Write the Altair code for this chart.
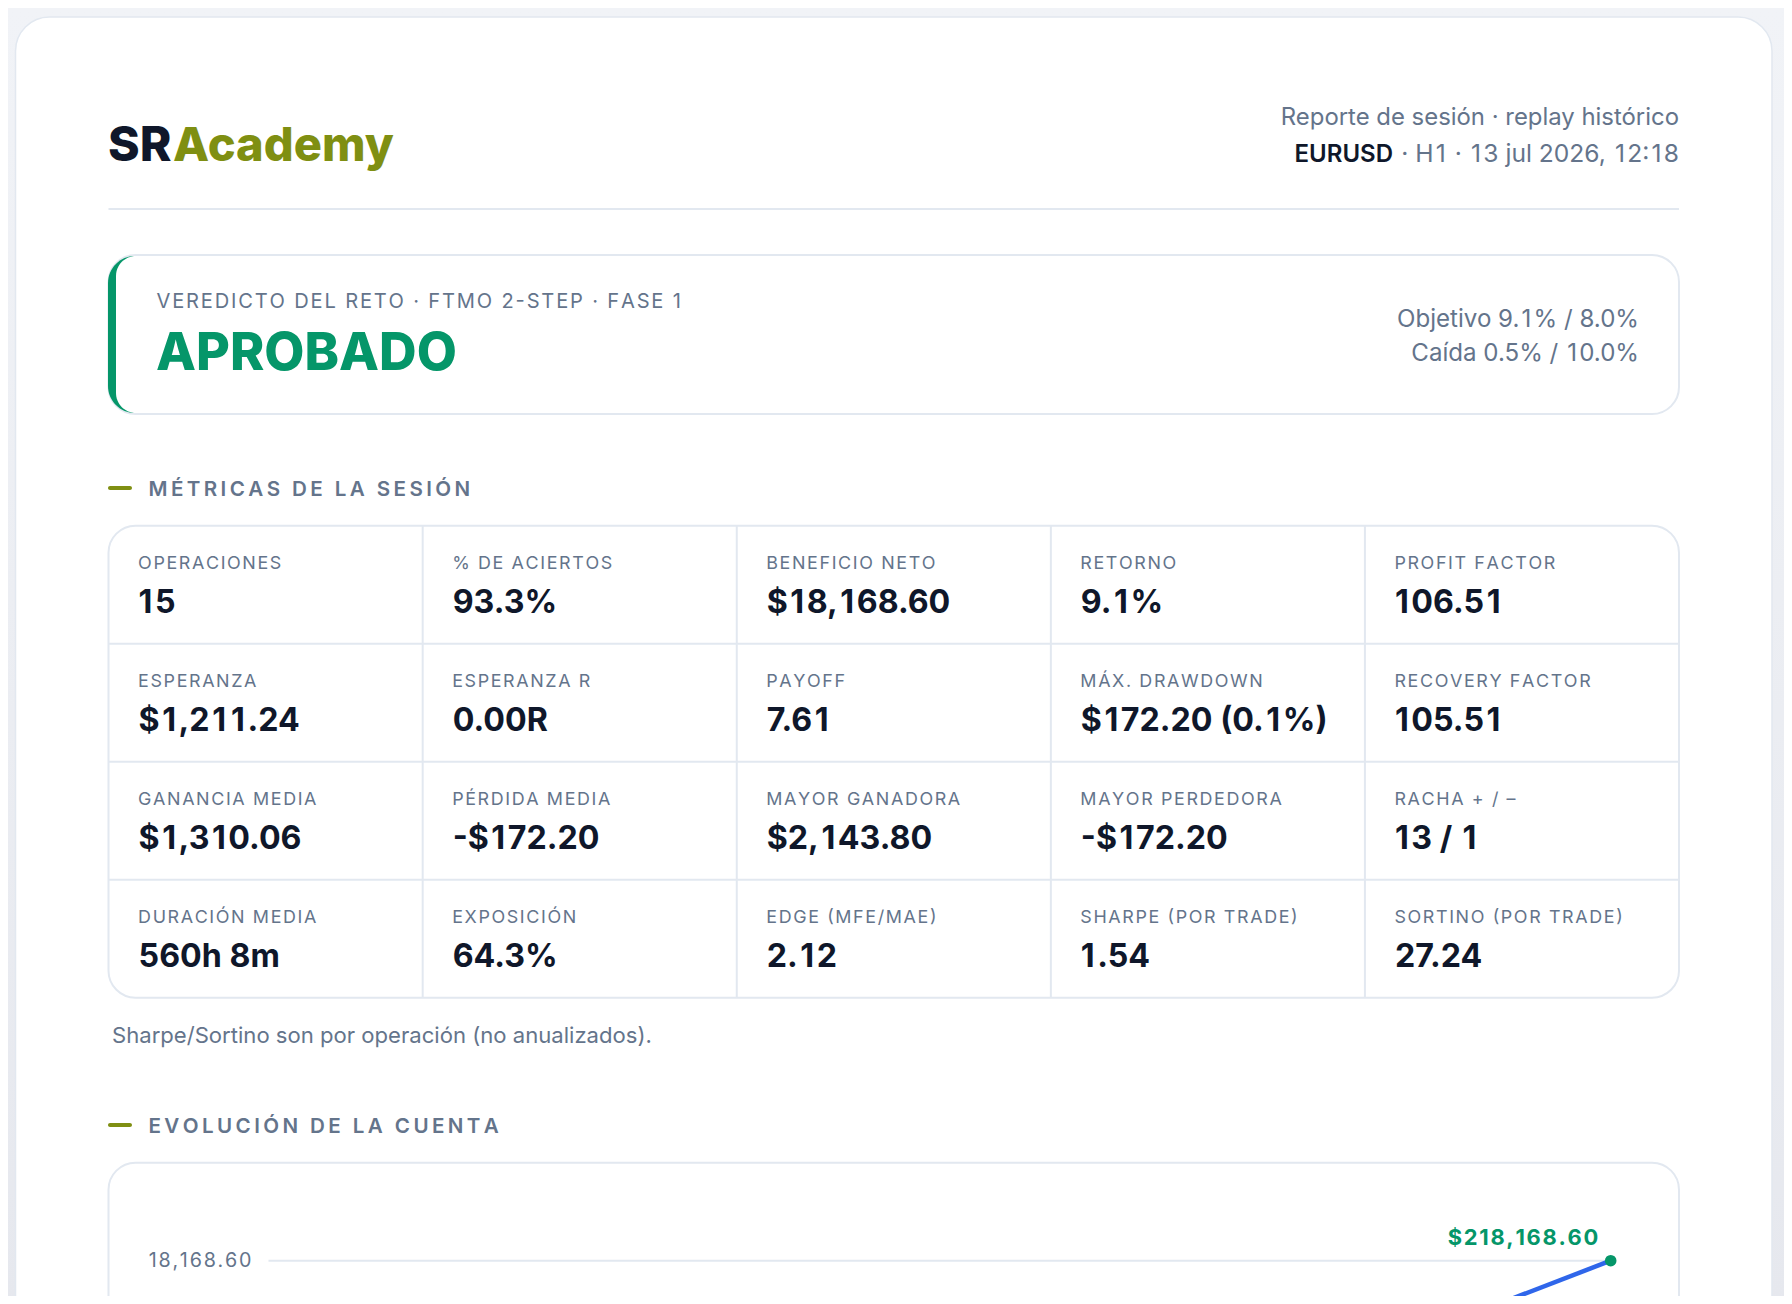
import pandas as pd
import altair as alt

metric_labels = [
    "OPERACIONES", "% DE ACIERTOS", "BENEFICIO NETO", "RETORNO", "PROFIT FACTOR",
    "ESPERANZA", "ESPERANZA R", "PAYOFF", "MÁX. DRAWDOWN", "RECOVERY FACTOR",
    "GANANCIA MEDIA", "PÉRDIDA MEDIA", "MAYOR GANADORA", "MAYOR PERDEDORA", "RACHA + / –",
    "DURACIÓN MEDIA", "EXPOSICIÓN", "EDGE (MFE/MAE)", "SHARPE (POR TRADE)", "SORTINO (POR TRADE)",
]
metric_values = [
    "15", "93.3%", "$18,168.60", "9.1%", "106.51",
    "$1,211.24", "0.00R", "7.61", "$172.20 (0.1%)", "105.51",
    "$1,310.06", "-$172.20", "$2,143.80", "-$172.20", "13 / 1",
    "560h 8m", "64.3%", "2.12", "1.54", "27.24",
]
equity_trade = [13, 15]
equity_value = [13990, 18168.60]
grid_value = 18168.60
end_label = "$218,168.60"

SLATE = "#64748b"
INK = "#0f172a"
OLIVE = "#7f8f12"
GREEN = "#059669"
BORDER = "#e2e8f0"
FONT = "Inter"
HAIR = "\u200a"


def track(txt, n=1):
    # vega has no letter-spacing, a hair space between letters does the job
    return (HAIR * n).join(txt)


def tabular(txt):
    # same for tabular figures: the narrow 1 gets padded
    return txt.replace("1", HAIR + "1" + HAIR)


def box(x, x2, y, y2, **style):
    # rects are given in page pixels, the svg starts 8px in
    return alt.Chart(pd.DataFrame({"a": [0]})).mark_rect(**style).encode(
        x=alt.value(x - 8), x2=alt.value(x2 - 8), y=alt.value(y - 8), y2=alt.value(y2 - 8)
    )


def label(txt, x, y, size, color=SLATE, weight=400, align="left"):
    return alt.Chart(pd.DataFrame({"t": [txt]})).mark_text(
        font=FONT, fontSize=size, fontWeight=weight, color=color, align=align, baseline="alphabetic"
    ).encode(x=alt.value(x - 8), y=alt.value(y - 8), text="t:N")


metrics = pd.DataFrame({
    "label": [track(t) for t in metric_labels],
    "value": [tabular(t) for t in metric_values],
    "col": [i % 5 for i in range(20)],
    "row": [i // 5 for i in range(20)],
})
col_scale = alt.Scale(domain=[0, 5], range=[100.6, 1671], nice=False, zero=False)
row_scale = alt.Scale(domain=[0, 4], range=[517.7, 989.7], nice=False, zero=False)

cell_x = alt.X("col:Q", scale=col_scale, axis=None)
cell_y = alt.Y("row:Q", scale=row_scale, axis=None)

metric_label_text = alt.Chart(metrics).mark_text(
    font=FONT, fontSize=17.9, color=SLATE, align="left", baseline="alphabetic", dx=29.5, dy=43.6
).encode(x=cell_x, y=cell_y, text="label:N")
metric_value_text = alt.Chart(metrics).mark_text(
    font=FONT, fontSize=32.2, fontWeight=700, color=INK, align="left", baseline="alphabetic", dx=30, dy=87
).encode(x=cell_x, y=cell_y, text="value:N")

col_lines = alt.Chart(pd.DataFrame({"col": [1, 2, 3, 4]})).mark_rule(color=BORDER, strokeWidth=2).encode(
    x=cell_x, y=alt.value(517.7), y2=alt.value(989.7)
)
row_lines = alt.Chart(pd.DataFrame({"row": [1, 2, 3]})).mark_rule(color=BORDER, strokeWidth=2).encode(
    y=cell_y, x=alt.value(100.6), x2=alt.value(1671)
)

# equity chart, runs off the bottom of the page
equity = pd.DataFrame({"trade": equity_trade, "equity": equity_value})
eq_x = alt.Scale(domain=[0, 15], range=[260.5, 1602.7], nice=False, zero=False)
eq_y = alt.Scale(domain=[0, 18168.60], range=[1552, 1252.7], nice=False, zero=False)
eq_line = alt.Chart(equity).mark_line(color="#2f66ea", strokeWidth=4.5, clip=False).encode(
    x=alt.X("trade:Q", scale=eq_x, axis=None), y=alt.Y("equity:Q", scale=eq_y, axis=None)
)
last = pd.DataFrame({"trade": [equity_trade[-1]], "equity": [equity_value[-1]], "t": [track(end_label)]})
eq_dot = alt.Chart(last).mark_point(filled=True, size=135, color=GREEN, opacity=1).encode(
    x=alt.X("trade:Q", scale=eq_x, axis=None), y=alt.Y("equity:Q", scale=eq_y, axis=None)
)
eq_end = alt.Chart(last).mark_text(
    font=FONT, fontSize=21.9, fontWeight=700, color=GREEN, align="right", baseline="alphabetic", dx=-12.5, dy=-16
).encode(x=alt.X("trade:Q", scale=eq_x, axis=None), y=alt.Y("equity:Q", scale=eq_y, axis=None), text="t:N")
grid = pd.DataFrame({"a": [0], "b": [15], "v": [grid_value], "t": [track(f"{grid_value:,.2f}")]})
eq_grid = alt.Chart(grid).mark_rule(color=BORDER, strokeWidth=2).encode(
    x=alt.X("a:Q", scale=eq_x, axis=None), x2="b:Q", y=alt.Y("v:Q", scale=eq_y, axis=None)
)
eq_tick = alt.Chart(grid).mark_text(
    font=FONT, fontSize=19.7, color=SLATE, align="right", baseline="middle", dx=-17
).encode(x=alt.X("a:Q", scale=eq_x, axis=None), y=alt.Y("v:Q", scale=eq_y, axis=None), text="t:N")

chart = alt.layer(
    box(8, 1792, 8, 1304, fill=alt.Gradient(
        gradient="linear", x1=0, y1=0, x2=0, y2=1,
        stops=[alt.GradientStop(color="#f1f3f7", offset=0), alt.GradientStop(color="#e6e8ee", offset=1)],
    )),
    box(15.5, 1772, 17, 1420, fill="white", stroke=BORDER, strokeWidth=1.5, cornerRadius=34),
    # header
    label("SR", 108, 161, 48, INK, 800),
    label("Academy", 173, 161, 47, OLIVE, 800),
    label("Reporte de sesión · replay histórico", 1679, 125, 23.9, align="right"),
    label("EURUSD", 1393, 162, 24, INK, 600, "right"),
    label(tabular("· H1 · 13 jul 2026, 12:18"), 1679, 162, 24.6, align="right"),
    box(108.5, 1679, 208, 210, fill=BORDER),
    # verdict, the green bar is a crescent between two rounded rects
    box(108.5, 1679, 255, 414, fill="white", stroke=BORDER, strokeWidth=2, cornerRadius=27),
    box(108, 165, 256, 413, fill=GREEN, cornerRadius=27),
    box(116, 165, 256, 413, fill="white", cornerRadius=20),
    label(track("VEREDICTO DEL RETO · FTMO 2-STEP · FASE 1"), 156.5, 308, 20.1),
    label("APROBADO", 156, 370, 52, GREEN, 800),
    label(tabular("Objetivo 9.1% / 8.0%"), 1639, 327, 24.1, align="right"),
    label(tabular("Caída 0.5% / 10.0%"), 1639, 361, 24.1, align="right"),
    # metrics
    box(108, 132, 486, 490, fill=OLIVE, cornerRadius=2),
    label(track("MÉTRICAS DE LA SESIÓN", 2), 148.5, 496, 20.6, SLATE, 600),
    box(108.5, 1679, 525.7, 997.7, fill="white", stroke=BORDER, strokeWidth=2, cornerRadius=27),
    col_lines,
    row_lines,
    metric_label_text,
    metric_value_text,
    label("Sharpe/Sortino son por operación (no anualizados).", 112, 1043, 22.1),
    # evolution
    box(108, 132, 1123, 1127, fill=OLIVE, cornerRadius=2),
    label(track("EVOLUCIÓN DE LA CUENTA", 2), 148.5, 1133, 20.6, SLATE, 600),
    box(108.5, 1679, 1162.7, 1420, fill="white", stroke=BORDER, strokeWidth=2, cornerRadius=27),
    eq_grid,
    eq_tick,
    eq_line,
    eq_dot,
    eq_end,
).resolve_scale(x="independent", y="independent").properties(
    width=1776, height=1288, padding=0, autosize=alt.AutoSizeParams(type="none")
).configure_view(strokeWidth=0)

chart.save("out.html", embed_options={"renderer": "svg", "actions": False})
